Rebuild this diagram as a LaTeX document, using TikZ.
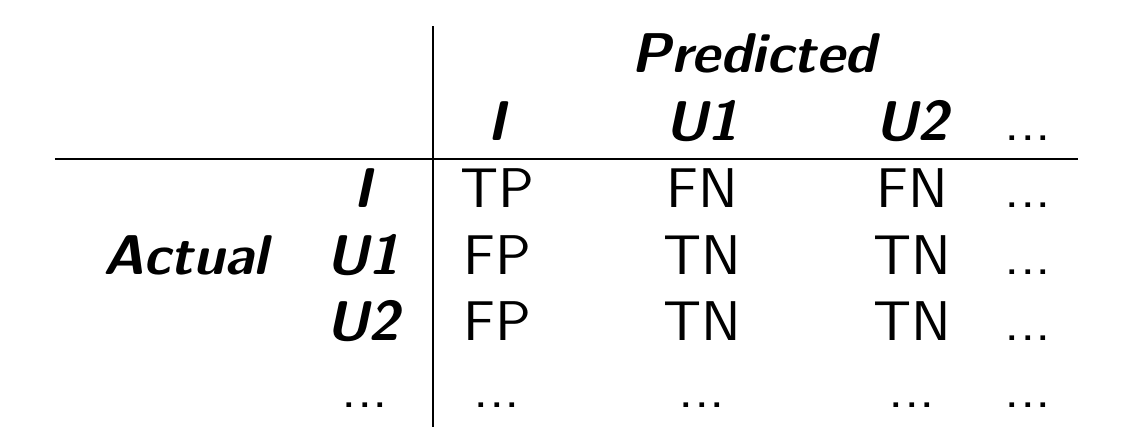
\documentclass[tikz,border=0pt]{standalone}
\usepackage{tikz}
\usetikzlibrary{positioning, calc}

\begin{document}
\begin{tikzpicture}[x=0.17857pt, y=-0.17857pt,
		head/.style={font=\sffamily\bfseries\itshape, inner sep=0pt, anchor=base},
		cell/.style={font=\sffamily, inner sep=0pt, anchor=base},
		rule/.style={line width=0.4pt}]
	\useasboundingbox (0,0) rectangle (1124,436);

	% column heads
	\node[head] (pred) at (754,72) {Predicted};
	\node[head] (hI) at (497,140) {I};
	\node[head] (hU1) at (702,140) {U1};
	\node[head] (hU2) at (912,140) {U2};
	\node[cell] (hD) at (1028,140) {...};

	% row heads
	\node[head] (act) at (186,274) {Actual};
	\node[head] (rI) at (363,207) {I};
	\node[head] (rU1) at (363,274) {U1};
	\node[head] (rU2) at (363,340) {U2};
	\node[cell] (rD) at (365,407) {...};

	% entries
	\node[cell] (tp) at (497,207) {TP};
	\node[cell] (fn1) at (702,207) {FN};
	\node[cell] (fn2) at (912,207) {FN};
	\node[cell] (d1) at (1028,207) {...};
	\node[cell] (fp1) at (497,274) {FP};
	\node[cell] (tn1) at (702,274) {TN};
	\node[cell] (tn2) at (912,274) {TN};
	\node[cell] (d2) at (1028,274) {...};
	\node[cell] (fp2) at (497,340) {FP};
	\node[cell] (tn3) at (702,340) {TN};
	\node[cell] (tn4) at (912,340) {TN};
	\node[cell] (d3) at (1028,340) {...};
	\node[cell] (d4) at (497,407) {...};
	\node[cell] (d5) at (702,407) {...};
	\node[cell] (d6) at (912,407) {...};
	\node[cell] (d7) at (1028,407) {...};

	% rules
	\coordinate (vtop) at (433,26);
	\coordinate (vbot) at (433,427);
	\coordinate (hl) at (55,159);
	\coordinate (hr) at (1078,159);
	\draw[rule] (vtop) -- (vbot);
	\draw[rule] (hl) -- (hr);
\end{tikzpicture}
\end{document}
